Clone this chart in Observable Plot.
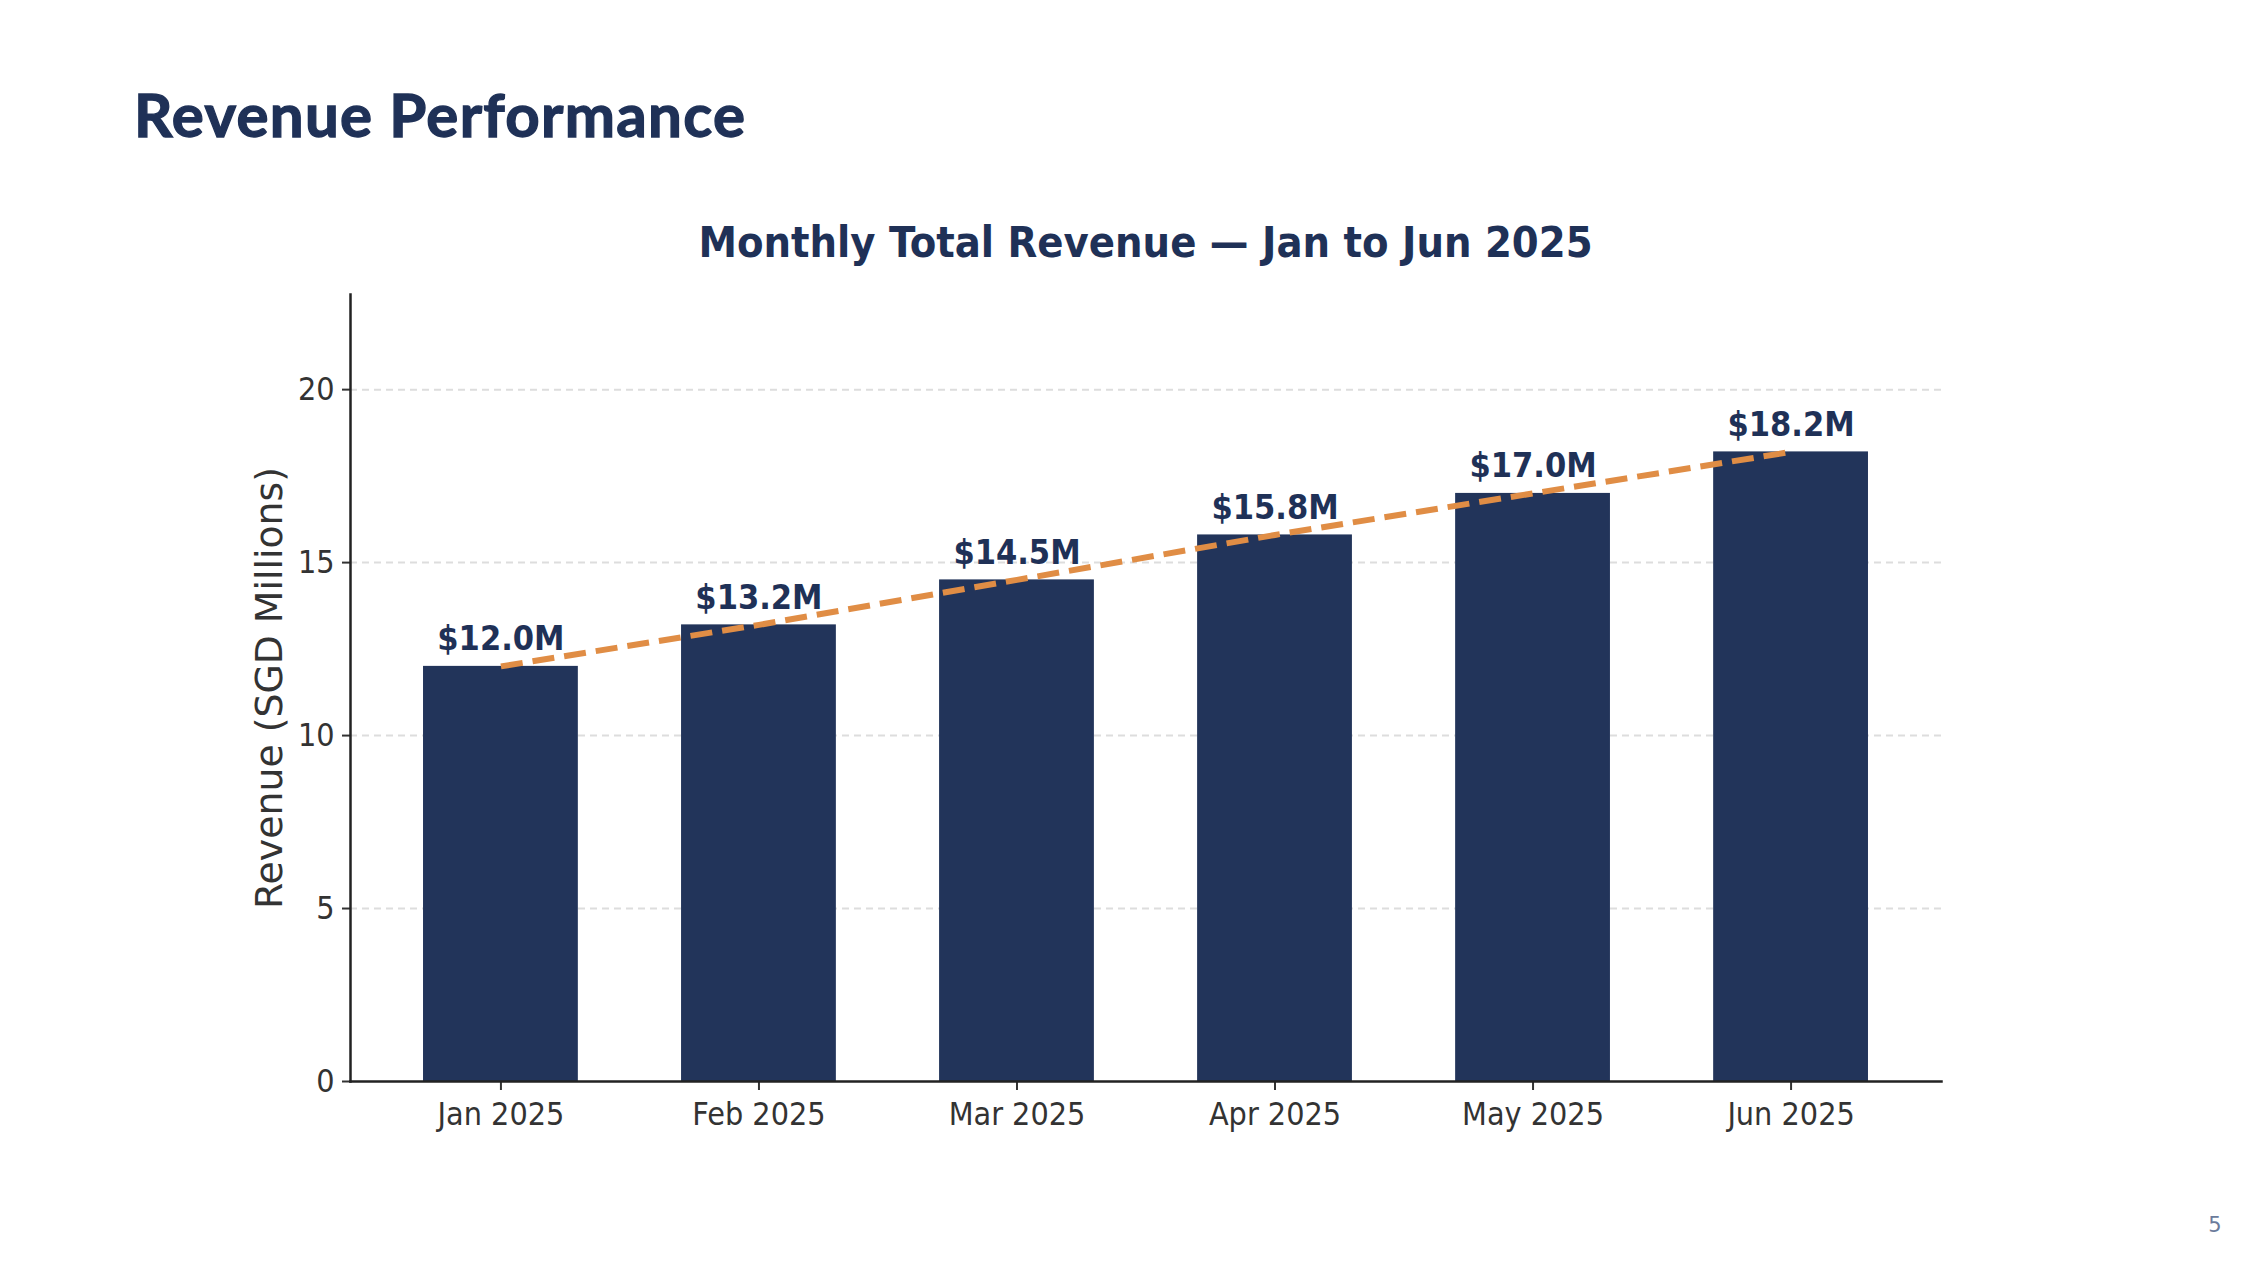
<!DOCTYPE html>
<html>
<head>
<meta charset="utf-8">
<script src="https://cdn.jsdelivr.net/npm/d3@7"></script>
<script src="https://cdn.jsdelivr.net/npm/@observablehq/plot@0.6"></script>
<style>
  html, body { margin: 0; padding: 0; background: #fff; }
  body { width: 2252px; height: 1286px; position: relative; overflow: hidden; }
  .cond { font-family: "DejaVu Sans Condensed", "DejaVu Sans", sans-serif; font-stretch: semi-condensed; }
  #page-title { position: absolute; left: 134px; top: 84px; font-family: Lato, "Open Sans", sans-serif; font-size: 60px; font-weight: 700; color: #1f3157; line-height: 1; white-space: nowrap; letter-spacing: 1.3px; -webkit-text-stroke: 1.3px #1f3157; }
  #chart-title { position: absolute; left: 350px; width: 1591px; top: 221px; text-align: center; font-size: 43px; font-weight: bold; color: #1f3157; line-height: 1; white-space: nowrap; }
  #page-num { position: absolute; left: 2200px; width: 30px; top: 1213px; text-align: center; font-family: "DejaVu Sans", sans-serif; font-size: 21px; color: #6b7b9b; }
  #chart { position: absolute; left: 0; top: 0; }
</style>
</head>
<body>
<div id="page-title">Revenue Performance</div>
<div id="chart-title" class="cond">Monthly Total Revenue — Jan to Jun 2025</div>
<div id="chart"></div>
<div id="page-num">5</div>
<script>
const months = ["Jan 2025", "Feb 2025", "Mar 2025", "Apr 2025", "May 2025", "Jun 2025"];
const revenue = [12.0, 13.2, 14.5, 15.8, 17.0, 18.2];
const valueLabels = ["$12.0M", "$13.2M", "$14.5M", "$15.8M", "$17.0M", "$18.2M"];
const yTicks = [0, 5, 10, 15, 20];
const gridTicks = [5, 10, 15, 20];
const yLabel = "Revenue (SGD Millions)";

const data = months.map((m, i) => ({month: m, revenue: revenue[i], label: valueLabels[i]}));

const navy = "#22345a";
const orange = "#e08d45";
const condFont = "'DejaVu Sans Condensed', 'DejaVu Sans', sans-serif";

const plot = Plot.plot({
  width: 2252,
  height: 1200,
  marginLeft: 350,
  marginRight: 311,
  marginTop: 294,
  marginBottom: 119,
  style: {fontFamily: condFont, fontSize: "32px", color: "#333", background: "transparent", fontStretch: "semi-condensed"},
  x: {domain: months, paddingInner: 0.4, paddingOuter: 0.283, round: false, label: null},
  y: {domain: [0, 22.75], label: null},
  marks: [
    Plot.gridY(gridTicks, {stroke: "#dddddd", strokeOpacity: 1, strokeWidth: 2, strokeDasharray: "7,5"}),
    Plot.barY(data, {x: "month", y: "revenue", fill: navy, insetLeft: 0, insetRight: 0}),
    Plot.lineY(data, {x: "month", y: "revenue", stroke: orange, strokeWidth: 6, strokeDasharray: "22,10", strokeLinecap: "butt"}),
    Plot.text(data, {x: "month", y: "revenue", text: "label", dy: -16, lineAnchor: "bottom", fill: "#1f3157", fontWeight: "bold", fontSize: 34}),
    Plot.axisY({ticks: yTicks, tickSize: 8, tickPadding: 8, tickFormat: d3.format("d"), label: null, stroke: "#333", strokeWidth: 2, fill: "#333", fontSize: 32}),
    Plot.axisX({tickSize: 9, tickPadding: 12, label: null, stroke: "#333", strokeWidth: 2, fill: "#333", fontSize: 32}),
    Plot.frame({anchor: "left", stroke: "#222", strokeWidth: 2.5}),
    Plot.frame({anchor: "bottom", stroke: "#222", strokeWidth: 2.5}),
    Plot.text([yLabel], {frameAnchor: "left", textAnchor: "middle", dx: -81, rotate: -90, fontSize: 37.8, fontFamily: "'DejaVu Sans', sans-serif", fill: "#333"})
  ]
});
// the axis title is set in the regular (non-condensed) width
const textGroups = plot.querySelectorAll('g[aria-label="text"]');
const yLabelGroup = textGroups[textGroups.length - 1];
yLabelGroup.style.fontStretch = "normal";
yLabelGroup.querySelectorAll("text").forEach(t => t.style.fontStretch = "normal");
document.getElementById("chart").appendChild(plot);
</script>
</body>
</html>
